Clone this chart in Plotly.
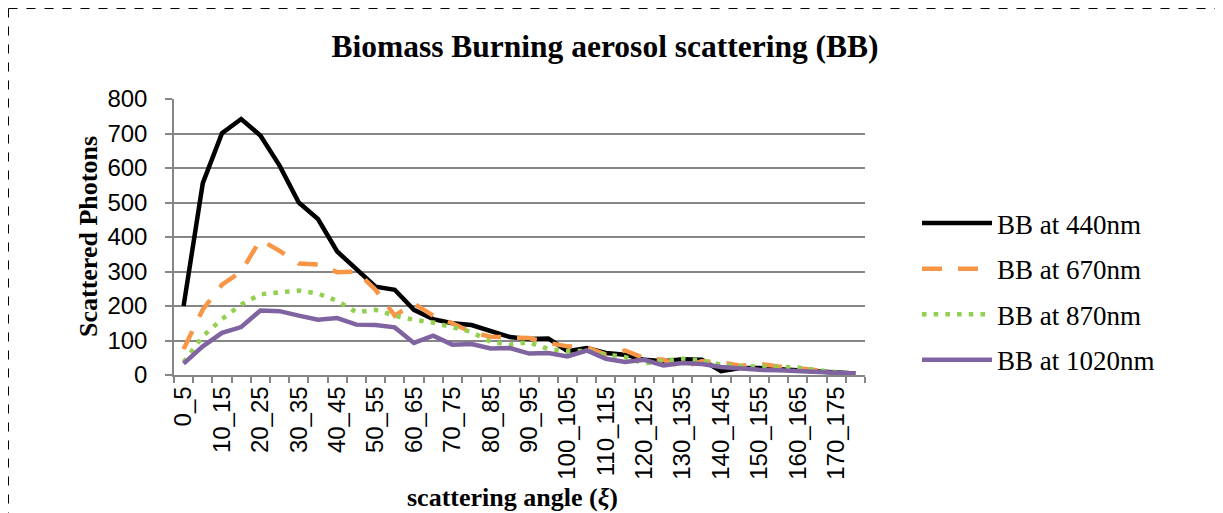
import plotly.graph_objects as go

categories = ["0_5", "5_10", "10_15", "15_20", "20_25", "25_30", "30_35", "35_40",
              "40_45", "45_50", "50_55", "55_60", "60_65", "65_70", "70_75", "75_80",
              "80_85", "85_90", "90_95", "95_100", "100_105", "105_110", "110_115",
              "115_120", "120_125", "125_130", "130_135", "135_140", "140_145",
              "145_150", "150_155", "155_160", "160_165", "165_170", "170_175", "175_180"]

bb440 = [200, 556, 701, 742, 694, 607, 500, 452, 358, 305, 256, 247, 189, 162, 150, 145,
         128, 110, 104, 106, 69, 78, 64, 59, 44, 40, 46, 44, 11, 20, 20, 17, 15, 11, 8, 4]
bb670 = [75, 190, 262, 300, 392, 360, 323, 320, 298, 300, 247, 172, 207, 172, 150, 124,
         111, 110, 107, 93, 83, 80, 59, 71, 49, 44, 23, 40, 37, 27, 32, 25, 20, 14, 6, 1]
bb870 = [37, 112, 162, 204, 234, 238, 245, 236, 215, 182, 189, 172, 160, 152, 137, 125,
         96, 88, 95, 75, 69, 70, 60, 52, 33, 42, 47, 42, 30, 25, 25, 25, 22, 14, 8, 3]
bb1020 = [33, 83, 122, 139, 187, 185, 172, 160, 165, 146, 145, 138, 93, 114, 88, 90,
          77, 78, 62, 64, 54, 71, 47, 38, 44, 28, 35, 32, 23, 18, 15, 14, 12, 8, 6, 4]

series_names = ["BB at 440nm", "BB at 670nm", "BB at 870nm", "BB at 1020nm"]
tick_text = [c if i % 2 == 0 else "" for i, c in enumerate(categories)]

# the page body has an 8px margin, so the figure is 8px smaller than the window
OFF = 8
W, H = 1223 - OFF, 513 - OFF
ML, MT = 174 - OFF, 99 - OFF
PLOT_R, PLOT_B = 865 - OFF, 375 - OFF
MR, MB = W - PLOT_R, H - PLOT_B
PW, PH = PLOT_R - ML, PLOT_B - MT


def px_x(x):
    """window x pixel -> paper fraction"""
    return (x - OFF - ML) / PW


def px_y(y):
    """window y pixel -> paper fraction"""
    return (PLOT_B - (y - OFF)) / PH


GRID = "#868686"
SERIF = "Liberation Serif"
SANS = "Liberation Sans"

fig = go.Figure()
styles = [
    dict(color="#000000", width=4.5, dash="solid"),
    dict(color="#F79646", width=4.5, dash="20px,16px"),
    dict(color="#92D050", width=4.5, dash="4.5px,7.2px"),
    dict(color="#8064A2", width=4.5, dash="solid"),
]
for name, vals, st, g in zip(series_names, [bb440, bb670, bb870, bb1020], styles, "abcd"):
    fig.add_trace(go.Scatter(x=categories, y=vals, mode="lines", name=name,
                             line=st, legendgroup=g))

fig.update_layout(
    width=W, height=H,
    margin=dict(l=ML, r=MR, t=MT, b=MB, autoexpand=False),
    plot_bgcolor="white", paper_bgcolor="white",
    title=dict(text="<b>Biomass Burning aerosol scattering (BB)</b>",
               font=dict(family=SERIF, size=31.5, color="black"),
               xref="container", x=(605 - OFF) / W, xanchor="center",
               yref="container", y=1 - (46 - OFF) / H, yanchor="middle"),
    xaxis=dict(type="category", tickson="boundaries", ticks="outside", ticklen=6,
               tickwidth=1.5, tickcolor=GRID, showline=True, linecolor=GRID,
               linewidth=1.5, showgrid=False, tickangle=-90,
               tickvals=categories, ticktext=tick_text,
               tickfont=dict(family=SANS, size=24, color="black"),
               range=[-0.5, 35.5]),
    yaxis=dict(range=[0, 800], dtick=100, showgrid=True, gridcolor=GRID, gridwidth=1.5,
               ticks="outside", ticklen=7, tickwidth=1.5, tickcolor=GRID,
               showline=True, linecolor=GRID, linewidth=1.5, zeroline=False,
               tickfont=dict(family=SANS, size=24, color="black"),
               ticklabelstandoff=13),
    legend=dict(font=dict(family=SERIF, size=27, color="black"),
                xref="container", yref="container",
                x=(917 - OFF) / W, xanchor="left", y=1 - (199 - OFF) / H, yanchor="top",
                itemwidth=70, tracegroupgap=7.5, bgcolor="rgba(0,0,0,0)"),
    showlegend=True,
)

fig.add_annotation(text="<b>Scattered Photons</b>", textangle=-90,
                   xref="paper", yref="paper", x=px_x(88), y=px_y(237),
                   xanchor="center", yanchor="middle",
                   showarrow=False, font=dict(family=SERIF, size=26, color="black"))
fig.add_annotation(text="<b>scattering angle (<i>ξ</i>)</b>",
                   xref="paper", yref="paper", x=px_x(512), y=px_y(497),
                   xanchor="center", yanchor="middle",
                   showarrow=False, font=dict(family=SERIF, size=26, color="black"))

# page frame (dashed border)
fig.add_shape(type="line", xref="paper", yref="paper", x0=px_x(8.5), x1=px_x(1223),
              y0=px_y(8.5), y1=px_y(8.5), line=dict(color="black", width=1, dash="dash"))
fig.add_shape(type="line", xref="paper", yref="paper", x0=px_x(8.5), x1=px_x(8.5),
              y0=px_y(8.5), y1=px_y(513), line=dict(color="black", width=1, dash="dash"))

fig.write_html("out.html")
